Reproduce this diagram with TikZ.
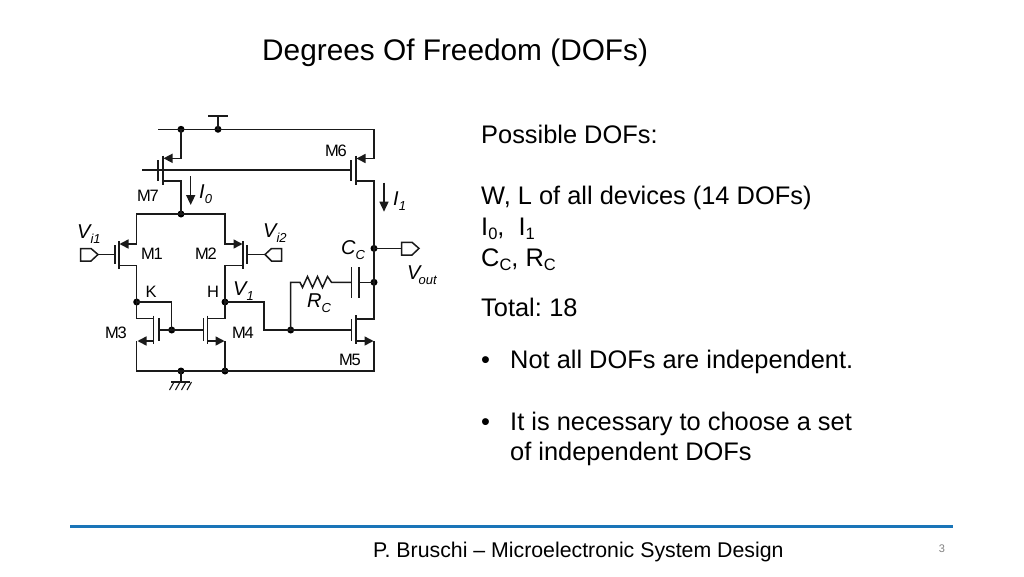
\documentclass[tikz,border=0pt]{standalone}
\usepackage{fontspec}
\setmainfont{Liberation Sans}
\usetikzlibrary{arrows.meta}
\definecolor{wirec}{HTML}{1A1A1A}
\definecolor{rule}{HTML}{1A75B8}
\tikzset{
 wire/.style={draw=wirec,line width=1.5pt,line join=miter},
 plate/.style={draw=wirec,line width=1.5pt},
 tip/.style={wire,-{Triangle[length=9pt,width=9pt]}},
 rtip/.style={wire,{Triangle[length=9pt,width=9pt]}-},
 flow/.style={wire,-{Triangle[length=10pt,width=9pt]}},
 dotn/.style={circle,fill=black,inner sep=0pt,minimum size=7pt},
 lab/.style={inner sep=0pt,text=black,font=\fontsize{16.5}{16.5}\selectfont},
 dev/.style={inner sep=0pt,text=black,font=\fontsize{16.5}{16.5}\selectfont\addfontfeatures{LetterSpace=-7}},
 sym/.style={inner sep=0pt,anchor=base west,text=black,font=\fontsize{20}{20}\selectfont\itshape},
 body/.style={inner sep=0pt,anchor=base west,text=black,font=\fontsize{25.4}{25.4}\selectfont},
}
\newcommand{\symb}[2]{#1\raisebox{-5.5pt}{\fontsize{13}{13}\selectfont\itshape #2}}
\newcommand{\symbt}[2]{#1\hspace{-2pt}\raisebox{-5.5pt}{\fontsize{13}{13}\selectfont\itshape #2}}
\newcommand{\bsub}[2]{#1\raisebox{-4.5pt}{\fontsize{16.5}{16.5}\selectfont #2}}
\begin{document}
\begin{tikzpicture}[x=1pt,y=-1pt]
\useasboundingbox (0,0) rectangle (1024,576);
% coordinates
\coordinate (railL) at (158,129.3);
\coordinate (railR) at (374,129.3);
\node[dotn] (top) at (181,129.3) {};
\node[dotn] (vdd) at (218,129.3) {};
\coordinate (vddbar) at (218,115.7);
\coordinate (gateL) at (142,170);
\node[dotn] (tail) at (181,214) {};
\node[dotn] (K) at (136.7,302) {};
\node[dotn] (H) at (225,302) {};
\node[dotn] (mirror) at (171.7,330) {};
\node[dotn] (gnd) at (181,371) {};
\node[dotn] (sr) at (225,371) {};
\node[dotn] (rg) at (290.7,330) {};
\node[dotn] (ccn) at (374,282.3) {};
\node[dotn] (out) at (374,248.4) {};
% supply
\draw[wire] (railL) -- (railR) -- (374,158.5);
\draw[tip] (374,158.5) -- (356.5,158.5);
\draw[wire] (vdd.center) -- (vddbar);
\draw[wire,line width=2.4pt] (208,115.7) -- (227.5,115.7);
% M7 M6
\draw[tip] (top.center) -- (181,158.3) -- (163.5,158.3);
\draw[wire] (gateL) -- (351,170);
\draw[plate] (158,160) -- (158,181);
\draw[plate] (163,155.5) -- (163,185);
\draw[plate] (351,160) -- (351,181);
\draw[plate] (356,155.5) -- (356,185);
\draw[wire] (163,181) -- (181,181) -- (tail.center);
\draw[wire] (356,181) -- (374,181) -- (out.center);
\draw[wire] (out.center) -- (ccn.center) -- (374,319) -- (356,319);
\draw[flow] (190.7,176) -- (190.7,205);
\draw[flow] (384,182.7) -- (384,211.7);
% pair
\draw[tip] (tail.center) -- (136.7,214) -- (136.7,244) -- (119.5,244);
\draw[tip] (tail.center) -- (225,214) -- (225,244) -- (242.5,244);
\draw[plate] (115,245) -- (115,264);
\draw[plate] (119,241) -- (119,269);
\draw[plate] (247,245) -- (247,264);
\draw[plate] (243,241) -- (243,269);
\draw[wire] (119,265.7) -- (136.7,265.7) -- (K.center) -- (136.7,318.3) -- (153.3,318.3);
\draw[wire] (243,265.7) -- (225,265.7) -- (H.center) -- (225,318.3) -- (207.3,318.3);
% ports
\draw[wire] (80.5,248.5) -- (91,248.5) -- (98,254.5) -- (91,261) -- (80.5,261) -- cycle;
\draw[wire] (98,254.5) -- (115,254.5);
\draw[wire] (281.7,248.5) -- (271.5,248.5) -- (265,254.5) -- (271.5,261) -- (281.7,261) -- cycle;
\draw[wire] (265,254.5) -- (247,254.5);
\draw[wire] (out.center) -- (401.7,248.4);
\draw[wire] (401.7,242.3) -- (412,242.3) -- (419,248.4) -- (412,255) -- (401.7,255) -- cycle;
% mirror
\draw[wire] (K.center) -- (171.7,302) -- (mirror.center);
\draw[wire] (159,330) -- (203.3,330);
\draw[plate] (153.3,315.5) -- (153.3,343.5);
\draw[plate] (159,318) -- (159,341);
\draw[plate] (207.3,315.5) -- (207.3,343.5);
\draw[plate] (203.3,318) -- (203.3,341);
\draw[rtip] (137.5,341) -- (153.3,341);
\draw[tip] (207.3,341) -- (224.5,341);
\draw[wire] (136.7,341) -- (136.7,371) -- (374,371) -- (374,341);
\draw[wire] (225,341) -- (sr.center);
% ground
\draw[wire] (gnd.center) -- (181,382);
\draw[wire] (171,382) -- (190,382);
\foreach \x in {174,180,186,191.5} \draw[wire,line width=1.1pt] (\x,382) -- (\x-4.5,390);
% H to M5
\draw[wire] (H.center) -- (264,302) -- (264,330) -- (rg.center) -- (351.7,330);
\draw[plate] (351.7,319) -- (351.7,341);
\draw[plate] (356,315) -- (356,344);
\draw[tip] (356,341) -- (373.5,341);
% RC
\draw[wire] (rg.center) -- (290.7,282.3) -- (300,282.3) -- (302.5,287.5) -- (307.5,276.5) -- (312.5,287.5) -- (317.5,276.5) -- (322.5,287.5) -- (327.5,276.5) -- (331.5,282.3) -- (351.7,282.3);
\draw[plate] (351.7,267) -- (351.7,297.7);
\draw[plate] (359,267) -- (359,297.7);
\draw[wire] (359,282.3) -- (ccn.center);
% labels
\node[dev] (m7) at (148,196) {M7};
\node[dev] (m6) at (336,151) {M6};
\node[dev] (m1) at (152,254) {M1};
\node[dev] (m2) at (206,254) {M2};
\node[dev] (m3) at (116,333) {M3};
\node[dev] (m4) at (243,333) {M4};
\node[dev] (m5) at (350,360) {M5};
\node[lab] (k) at (151,292) {K};
\node[lab] (h) at (213,292) {H};
\node[sym] (i0) at (199,198) {\symb{I}{0}};
\node[sym] (i1) at (393,205) {\symb{I}{1}};
\node[sym] (vi1) at (77,238) {\symb{V}{i1}};
\node[sym] (vi2) at (263,237) {\symb{V}{i2}};
\node[sym] (v1) at (233,295) {\symb{V}{1}};
\node[sym] (cc) at (341,254) {\symb{C}{C}};
\node[sym] (rc) at (307,307) {\symb{R}{C}};
\node[sym] (vout) at (407,279) {\symbt{V}{out}};
% text
\node[inner sep=0pt,anchor=base west,font=\fontsize{29.8}{29.8}\selectfont] (title) at (262,60) {Degrees Of Freedom (DOFs)};
\node[body] (t1) at (481,143) {Possible DOFs:};
\node[body] (t2) at (481,204) {W, L of all devices (14 DOFs)};
\node[body] (t3) at (481,235) {\bsub{I}{0},\ \ \bsub{I}{1}};
\node[body] (t4) at (481,266) {\bsub{C}{C}, \bsub{R}{C}};
\node[body] (t5) at (481,316) {Total:\hspace{-2pt} 18};
\node[body] (b1) at (481,368) {•};
\node[body] (t6) at (510,368) {Not all DOFs are independent.};
\node[body] (b2) at (481,430) {•};
\node[body] (t7) at (510,430) {It is necessary to choose a set};
\node[body] (t8) at (510,460.5) {of independent DOFs};
% footer
\draw[rule,line width=3pt] (70,526) -- (953,526);
\node[inner sep=0pt,anchor=base west,font=\fontsize{21.3}{21.3}\selectfont] (foot) at (373,557) {P. Bruschi – Microelectronic System Design};
\node[inner sep=0pt,text=gray,font=\fontsize{11}{11}\selectfont] (pg) at (942,549) {3};
\end{tikzpicture}
\end{document}
